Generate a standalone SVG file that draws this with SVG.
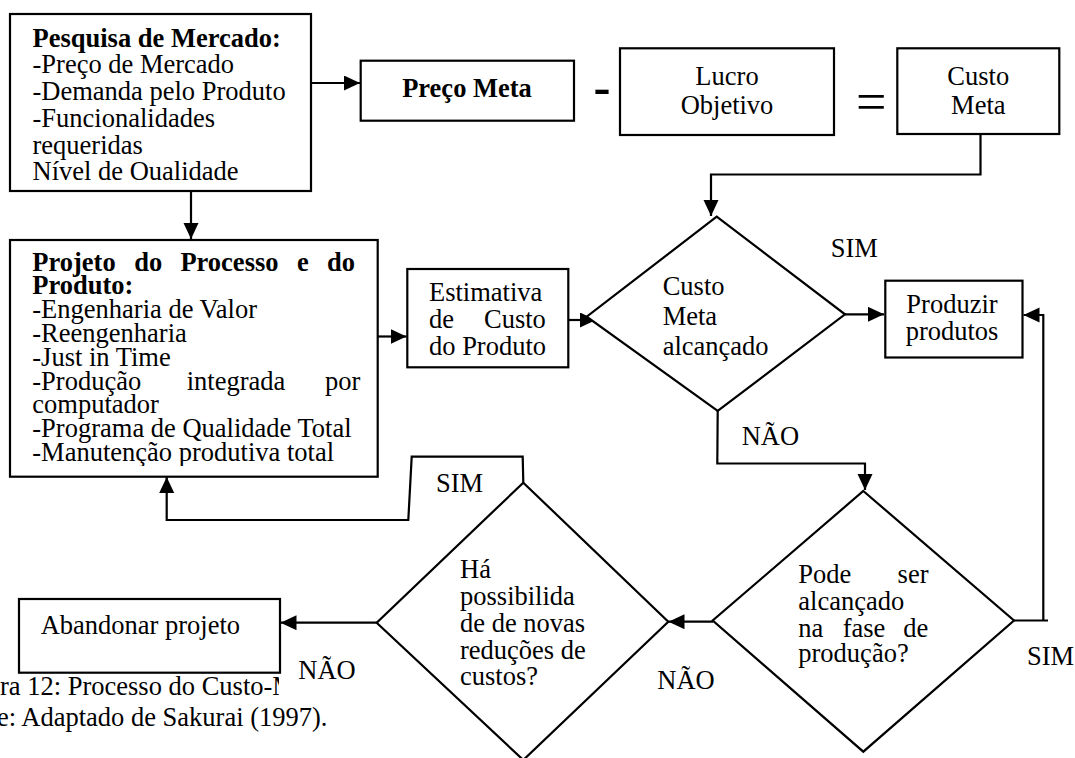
<svg xmlns="http://www.w3.org/2000/svg" width="1075" height="758" viewBox="0 0 1075 758">
  <style>
    .box { fill: #fff; stroke: #000; stroke-width: 2.2; }
    .conn { fill: none; stroke: #000; stroke-width: 2.2; }
    text { font-family: "Liberation Serif", "Times New Roman", serif; font-size: 26.5px; fill: #000; }
    .b { font-weight: bold; }
    .mid { text-anchor: middle; }
  </style>
  <defs>
    <marker id="arrow" markerUnits="userSpaceOnUse" markerWidth="17" markerHeight="16" refX="16" refY="7.5" orient="auto">
      <path d="M0,0 L16,7.5 L0,15 z" fill="#000"/>
    </marker>
    <clipPath id="clip-projeto"><rect x="10" y="240" width="368" height="226"/></clipPath>
    <clipPath id="clip-caption"><rect x="0" y="660" width="279" height="50"/></clipPath>
  </defs>

  <!-- connectors -->
  <g id="connectors">
    <path class="conn" d="M311,83 H360" marker-end="url(#arrow)"/>
    <path class="conn" d="M191,191 V239" marker-end="url(#arrow)"/>
    <path class="conn" d="M378,336.5 H406.5" marker-end="url(#arrow)"/>
    <path class="conn" d="M565,320 H596" marker-end="url(#arrow)"/>
    <path class="conn" d="M980.5,134 V174.5 H711 V216" marker-end="url(#arrow)"/>
    <path class="conn" d="M845,314.3 H884" marker-end="url(#arrow)"/>
    <path class="conn" d="M717.7,411 L717.3,463.5 H865 V490" marker-end="url(#arrow)"/>
    <path class="conn" d="M1013,620.5 H1048"/>
    <path class="conn" d="M1043.3,620.5 V315 H1023.5" marker-end="url(#arrow)"/>
    <path class="conn" d="M713,621.7 H668.5" marker-end="url(#arrow)"/>
    <path class="conn" d="M523.3,482.7 L522.7,456.7 H411.7 L408.3,520 H166.7 V477" marker-end="url(#arrow)"/>
    <path class="conn" d="M376.7,622.7 H280.5" marker-end="url(#arrow)"/>
  </g>

  <!-- market research -->
  <g id="pesquisa">
    <rect class="box" x="10" y="14" width="301" height="177"/>
    <text x="32.5" y="46.7" class="b">Pesquisa de Mercado:</text>
    <text x="32.5" y="73.4">-Preço de Mercado</text>
    <text x="32.5" y="100.1">-Demanda pelo Produto</text>
    <text x="32.5" y="126.8">-Funcionalidades</text>
    <text x="32.5" y="153.5">requeridas</text>
    <text x="32.5" y="180.2">Nível de Oualidade</text>
  </g>

  <g id="preco-meta">
    <rect class="box" x="360.7" y="60.7" width="213.3" height="60"/>
    <text x="467" y="97" class="b mid">Preço Meta</text>
  </g>

  <g id="menos">
    <text x="593.5" y="104" class="b" style="font-size:51px">-</text>
  </g>

  <g id="lucro-objetivo">
    <rect class="box" x="620" y="48.3" width="214" height="86.7"/>
    <text x="727" y="85" class="mid">Lucro</text>
    <text x="727" y="114" class="mid">Objetivo</text>
  </g>

  <g id="igual">
    <text x="856" y="120" style="font-size:54px">=</text>
  </g>

  <g id="custo-meta">
    <rect class="box" x="897.3" y="48.3" width="162" height="85.7"/>
    <text x="978.3" y="85" class="mid">Custo</text>
    <text x="978.3" y="114" class="mid">Meta</text>
  </g>

  <!-- product and process design -->
  <g id="projeto">
    <rect class="box" x="10" y="240" width="367.7" height="236.7"/>
    <g clip-path="url(#clip-projeto)">
      <text y="270.5" class="b"><tspan x="32.3">Projeto</tspan><tspan x="134.3">do</tspan><tspan x="180.4">Processo</tspan><tspan x="297.1">e</tspan><tspan x="327">do</tspan></text>
      <text x="32.3" y="294.3" class="b">Produto:</text>
      <text x="32.3" y="318.1">-Engenharia de Valor</text>
      <text x="32.3" y="341.9">-Reengenharia</text>
      <text x="32.3" y="365.7">-Just in Time</text>
      <text y="389.5"><tspan x="32.3">-Produção</tspan><tspan x="186.7">integrada</tspan><tspan x="325">por</tspan></text>
      <text x="32.3" y="413.3">computador</text>
      <text x="32.3" y="437.1">-Programa de Qualidade Total</text>
      <text x="32.3" y="460.9">-Manutenção produtiva total</text>
    </g>
  </g>

  <g id="estimativa">
    <rect class="box" x="407.3" y="269" width="161" height="98.3"/>
    <text x="429" y="301">Estimativa</text>
    <text y="328"><tspan x="429">de</tspan><tspan x="484">Custo</tspan></text>
    <text x="429" y="355">do Produto</text>
  </g>

  <g id="custo-meta-alcancado">
    <polygon class="box" points="716.7,216.7 845,314.3 717.7,411 586.7,316.7"/>
    <text x="662.7" y="295">Custo</text>
    <text x="662.7" y="324.5">Meta</text>
    <text x="662.7" y="355">alcançado</text>
  </g>

  <g id="produzir">
    <rect class="box" x="885.3" y="280.7" width="137.2" height="76.8"/>
    <text x="952" y="313.3" class="mid">Produzir</text>
    <text x="952" y="340" class="mid">produtos</text>
  </g>

  <g id="fase-producao">
    <polygon class="box" points="863.3,491 1014,620.5 863.3,751.7 712.7,620.5"/>
    <text y="583.3"><tspan x="798.3">Pode</tspan><tspan x="897.6">ser</tspan></text>
    <text x="798.3" y="610">alcançado</text>
    <text y="636.5"><tspan x="798.3">na</tspan><tspan x="842.7">fase</tspan><tspan x="903.3">de</tspan></text>
    <text x="798.3" y="661.7">produção?</text>
  </g>

  <g id="novas-reducoes">
    <polygon class="box" points="523.3,482.7 668.3,621.7 523.3,760 376.7,622.7"/>
    <text x="460" y="578.3">Há</text>
    <text x="460" y="605.3">possibilida</text>
    <text x="460" y="631.9">de de novas</text>
    <text x="460" y="658.5">reduções de</text>
    <text x="460" y="685">custos?</text>
  </g>

  <g id="abandonar">
    <rect class="box" x="19" y="599" width="261" height="73.7"/>
    <text x="40.7" y="634.3">Abandonar projeto</text>
  </g>

  <!-- branch labels -->
  <g id="rotulos">
    <text x="830.7" y="256.7">SIM</text>
    <text x="741.7" y="445">NÃO</text>
    <text x="436" y="491.7">SIM</text>
    <text x="1027" y="665">SIM</text>
    <text x="657.3" y="689.3">NÃO</text>
    <text x="298.3" y="679">NÃO</text>
  </g>

  <!-- figure caption -->
  <g id="legenda">
    <text x="0" y="694.5" clip-path="url(#clip-caption)">ra 12: Processo do Custo-M</text>
    <text x="-3" y="725.7">e: Adaptado de Sakurai (1997).</text>
  </g>
</svg>
